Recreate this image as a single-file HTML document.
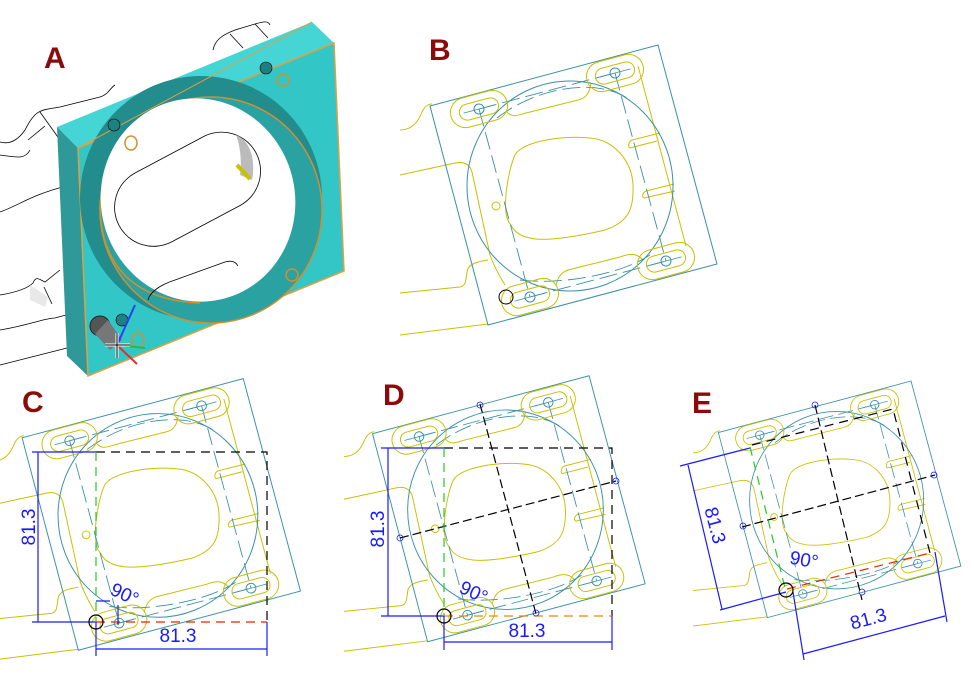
<!DOCTYPE html>
<html><head><meta charset="utf-8"><style>
html,body{margin:0;padding:0;background:#fff;}
svg{display:block;}
.lbl{font-family:"Liberation Sans",sans-serif;font-weight:bold;font-size:30px;fill:#8b0a0a;}
.dim{font-family:"Liberation Sans",sans-serif;font-size:19px;fill:#1a1aff;}
</style></head><body>
<svg width="974" height="679" viewBox="0 0 974 679" xmlns="http://www.w3.org/2000/svg">
<defs>
  <g id="slot" transform="rotate(-15)">
    <rect x="-29" y="-15" width="58" height="30" rx="15" fill="none" stroke="#c8c000" stroke-width="1"/>
    <rect x="-20" y="-8" width="40" height="16" rx="8" fill="none" stroke="#c8c000" stroke-width="1"/>
    <circle r="5" fill="none" stroke="#3a8fa8" stroke-width="1"/>
    <line x1="-16" y1="0" x2="16" y2="0" stroke="#3a8fa8" stroke-width="0.8"/>
  </g>
  <g id="plate" fill="none" stroke-width="1">
    <g stroke="#c8c000">
      <path d="M400,130 C412,130 418,122 422,112 C425,106 428,104 432,104"/>
      <path d="M400,175 L455,163 C465,161 470,165 472,172 L490,255 C494,266 498,274 505,285"/>
      <path d="M506,111 C512,118 516,116 526,113 L578,100 C588,98 590,90 591,83"/>
      <path d="M638,66 L686,246"/>
      <path d="M643,260 C636,252 628,254 620,257 L568,270 C560,273 558,278 556,285"/>
      <path d="M400,293 L460,287 C466,286 466,280 467,272 C468,264 476,262 488,260"/>
      <path d="M400,335 L488,324"/>
      <path d="M511,225 C500,215 508,170 515,155 C522,142 560,135 590,138 C615,140 632,162 633,185 C634,210 628,222 605,230 C580,236 545,242 530,238 C520,236 514,232 511,225Z"/>
      <path d="M632,140 L660,133 M630,148 L657,141 M632,140 C628,142 628,147 630,148"/>
      <path d="M646,191 L674,184 M644,198 L675,191 M646,191 C642,193 642,197 644,198"/>
      <circle cx="496" cy="206" r="4"/>
    </g>
    <g stroke="#3a8fa8">
      <polygon points="430,106 658,45 717,264 488,325"/>
      <ellipse cx="570" cy="186" rx="103" ry="105"/>
      <g stroke-dasharray="18,6" stroke-width="0.9">
        <line x1="479" y1="109" x2="530" y2="297"/>
        <line x1="479" y1="109" x2="615" y2="73"/>
        <line x1="615" y1="73" x2="666" y2="261"/>
        <line x1="530" y1="297" x2="666" y2="261"/>
        <path d="M497,118 C540,85 600,78 630,100"/>
        <path d="M520,280 C560,285 620,275 650,255"/>
      </g>
    </g>
    <use href="#slot" x="479" y="109"/>
    <use href="#slot" x="615" y="73"/>
    <use href="#slot" x="666" y="261"/>
    <use href="#slot" x="530" y="297"/>
  </g>
</defs>

<!-- ===== A ===== -->
<g fill="none" stroke="#000" stroke-width="0.8">
  <path d="M0,142 C10,145 18,140 25,130 C35,110 40,110 60,107 L100,97 C108,95 110,88 115,85"/>
  <path d="M40,112 L60,140 M28,140 L45,126"/>
  <path d="M0,155 C15,157 25,160 30,150"/>
  <path d="M0,212 C20,205 30,195 70,185 L100,175"/>
  <path d="M0,295 C18,292 28,288 33,283 C36,275 40,280 45,282 L60,270"/>
  <path d="M0,330 C30,325 45,318 55,318 L66,315"/>
  <path d="M0,365 L67,348"/>
  <path d="M213,50 C215,40 222,35 235,30 L255,24 C262,22 268,20 270,25 M230,34 L243,48 M255,24 L268,38"/>
  <path d="M44,287 L52,304"/>
</g>
<polygon points="30,285 48,297 45,307 30,300" fill="#e8e8e8"/>
<polygon points="57,127 312,22 334,43 78,148" fill="#45d5d5"/>
<polygon points="57,127 78,148 88,376 67,356" fill="#2f9898"/>
<polygon points="78,148 334,43 344,271 88,376" fill="#33c6c6" stroke="#e0a040" stroke-width="1.5"/>
<ellipse cx="201" cy="198" rx="121" ry="122" fill="#238c8c"/>
<ellipse cx="211" cy="210" rx="111" ry="113" fill="#2aa2a2" stroke="#d09030" stroke-width="1.5"/>
<ellipse cx="198" cy="200" rx="97" ry="102" transform="rotate(-15 198 200)" fill="#fff"/>
<path d="M100,205 C100,250 120,300 200,303" fill="none" stroke="#d09030" stroke-width="1.5"/>
<rect x="110" y="150" width="155" height="78" rx="39" transform="rotate(-28 188 189)" fill="#fff" stroke="#000" stroke-width="0.8"/>
<path d="M236,135 C250,140 256,160 252,180 L240,175 C242,160 240,145 236,135Z" fill="#bbb"/>
<line x1="237" y1="165" x2="250" y2="179" stroke="#c8c000" stroke-width="4"/>
<path d="M148,300 C150,292 160,285 175,280 L225,262 C232,260 236,262 238,266" fill="none" stroke="#000" stroke-width="0.8"/>
<line x1="312" y1="22" x2="78" y2="148" stroke="#e0a040" stroke-width="1"/>
<g fill="none" stroke="#d09030" stroke-width="1.5">
  <ellipse cx="131" cy="143" rx="6" ry="7"/>
  <ellipse cx="283" cy="80" rx="6" ry="6"/>
  <ellipse cx="292" cy="275" rx="6" ry="6"/>
  <ellipse cx="138" cy="340" rx="6" ry="7"/>
</g>
<g fill="#1f8080" stroke="#000" stroke-width="0.6">
  <ellipse cx="266" cy="68" rx="6" ry="6"/><ellipse cx="114" cy="125" rx="6" ry="6"/>
  <ellipse cx="122" cy="320" rx="6" ry="6"/>
</g>
<ellipse cx="100" cy="326" rx="10" ry="10" fill="#555" stroke="#222"/>
<polygon points="95,334 108,320 122,340 110,350" fill="#777"/>
<line x1="117" y1="345" x2="135" y2="305" stroke="#2244ee" stroke-width="2"/>
<line x1="117" y1="345" x2="145" y2="348" stroke="#22bb44" stroke-width="2"/>
<line x1="117" y1="345" x2="137" y2="364" stroke="#e03030" stroke-width="2"/>
<path d="M105,345 L130,345 M117,333 L117,358" stroke="#fff" stroke-width="3"/>
<path d="M105,345 L130,345 M117,333 L117,358" stroke="#000" stroke-width="1"/>
<text x="44" y="68" class="lbl">A</text>

<!-- ===== B ===== -->
<use href="#plate"/>
<circle cx="506" cy="297" r="7" fill="none" stroke="#000" stroke-width="1"/>
<text x="429" y="60" class="lbl">B</text>

<!-- ===== C ===== -->
<g transform="translate(-395,335) scale(0.97)"><use href="#plate"/></g>
<text x="22" y="412" class="lbl">C</text>
<g fill="none" stroke-width="1.2">
  <path d="M32,452 L96,452 M32,622 L96,622 M38,452 L38,622" stroke="#1a1aff"/>
  <path d="M96,452 L267,452 L267,622" stroke="#000" stroke-dasharray="9,6"/>
  <path d="M96,452 L96,622" stroke="#22cc22" stroke-dasharray="9,6"/>
  <path d="M96,622 L267,622" stroke="#ee2200" stroke-dasharray="9,6"/>
  <path d="M96,622 L96,656 M267,622 L267,656 M96,649 L267,649" stroke="#1a1aff"/>
  <path d="M96,601 L110,601 M118,605 L118,625" stroke="#1a1aff"/>
  <circle cx="96" cy="622" r="7" stroke="#000"/>
</g>
<text class="dim" x="178" y="642" text-anchor="middle">81.3</text>
<text class="dim" transform="translate(35,527) rotate(-90)" text-anchor="middle">81.3</text>
<text class="dim" transform="translate(122,600) rotate(25)" text-anchor="middle">90°</text>

<!-- ===== D ===== -->
<g transform="translate(-36,333) scale(0.95)"><use href="#plate"/></g>
<text x="383" y="405" class="lbl">D</text>
<g fill="none" stroke-width="1.2">
  <path d="M381,448 L444,448 M381,616 L444,616 M388,448 L388,616" stroke="#1a1aff"/>
  <path d="M444,448 L612,448 L612,616" stroke="#000" stroke-dasharray="9,6"/>
  <path d="M480,404 L536,614 M400,538 L616,481" stroke="#000" stroke-dasharray="9,4"/>
  <path d="M444,448 L444,616" stroke="#22cc22" stroke-dasharray="9,6"/>
  <path d="M444,616 L612,616" stroke="#ee8800" stroke-dasharray="9,6"/>
  <path d="M444,616 L444,650 M612,616 L612,650 M444,642 L612,642" stroke="#1a1aff"/>
  <circle cx="444" cy="616" r="7" stroke="#000"/>
  <g stroke="#1a1aff" stroke-width="0.8">
    <circle cx="480" cy="405" r="3"/><circle cx="536" cy="613" r="3"/>
    <circle cx="400" cy="538" r="3"/><circle cx="616" cy="481" r="3"/>
  </g>
</g>
<text class="dim" x="527" y="637" text-anchor="middle">81.3</text>
<text class="dim" transform="translate(384,529) rotate(-90)" text-anchor="middle">81.3</text>
<text class="dim" transform="translate(471,598) rotate(25)" text-anchor="middle">90°</text>

<!-- ===== E ===== -->
<g transform="translate(355,343) scale(0.845)"><use href="#plate"/></g>
<text x="692" y="413" class="lbl">E</text>
<g fill="none" stroke-width="1.2">
  <path d="M680,466 L750,448 M720,610 L786,592 M688,465 L722,609" stroke="#1a1aff"/>
  <path d="M752,445 L893,409 L930,553" stroke="#000" stroke-dasharray="9,6"/>
  <path d="M815,405 L862,600 M742,527 L935,475" stroke="#000" stroke-dasharray="9,4"/>
  <path d="M750,447 L786,592" stroke="#22cc22" stroke-dasharray="9,6"/>
  <path d="M787,589 L930,553" stroke="#ee2200" stroke-dasharray="9,6"/>
  <path d="M793,592 L804,660 M935,552 L947,622 M803,654 L945,616" stroke="#1a1aff"/>
  <circle cx="786" cy="590" r="7" stroke="#000"/>
  <g stroke="#1a1aff" stroke-width="0.8">
    <circle cx="815" cy="405" r="3"/><circle cx="862" cy="592" r="3"/>
    <circle cx="743" cy="526" r="3"/><circle cx="934" cy="475" r="3"/>
  </g>
</g>
<text class="dim" transform="translate(870,625) rotate(-15)" text-anchor="middle">81.3</text>
<text class="dim" transform="translate(709,527) rotate(75)" text-anchor="middle">81.3</text>
<text class="dim" transform="translate(803,566) rotate(10)" text-anchor="middle">90°</text>
</svg>
</body></html>
